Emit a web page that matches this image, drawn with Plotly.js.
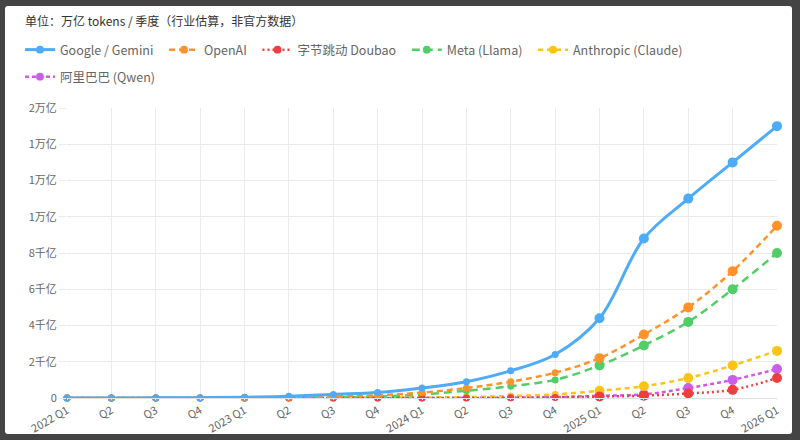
<!DOCTYPE html>
<html>
<head>
<meta charset="utf-8">
<script src="https://cdn.plot.ly/plotly-3.0.1.min.js"></script>
<style>
  html, body { margin: 0; padding: 0; background: #444; }
  #frame { position: absolute; left: 5px; top: 6px; width: 787px; height: 428px; background: #fff; border-radius: 3px; }
  #chart { position: absolute; left: 0; top: 0; width: 800px; height: 440px; }
</style>
</head>
<body>
<div id="frame"></div>
<div id="chart"></div>
<script>
const quarters = ['2022 Q1', 'Q2', 'Q3', 'Q4', '2023 Q1', 'Q2', 'Q3', 'Q4',
  '2024 Q1', 'Q2', 'Q3', 'Q4', '2025 Q1', 'Q2', 'Q3', 'Q4', '2026 Q1'];

// 万亿 tokens / 季度
const google = [0, 0, 0.001, 0.002, 0.004, 0.01, 0.02, 0.03, 0.055, 0.09, 0.15, 0.24, 0.44, 0.88, 1.1, 1.3, 1.5];
const openai = [0, 0, 0, 0, 0.001, 0.004, 0.008, 0.015, 0.03, 0.055, 0.09, 0.14, 0.22, 0.35, 0.5, 0.7, 0.95];
const doubao = [0, 0, 0, 0, 0, 0, 0, 0, 0, 0, 0.001, 0.003, 0.008, 0.013, 0.025, 0.045, 0.11];
const meta = [0, 0, 0, 0, 0, 0.002, 0.004, 0.008, 0.02, 0.04, 0.065, 0.1, 0.18, 0.29, 0.42, 0.6, 0.8];
const claude = [0, 0, 0, 0, 0, 0, 0.001, 0.002, 0.003, 0.005, 0.011, 0.02, 0.04, 0.065, 0.11, 0.18, 0.26];
const qwen = [0, 0, 0, 0, 0, 0, 0, 0, 0, 0.001, 0.002, 0.005, 0.012, 0.02, 0.055, 0.1, 0.16];

const yTickVals = [0, 0.2, 0.4, 0.6, 0.8, 1.0, 1.2, 1.4, 1.6];
const yTickText = ['0', '2千亿', '4千亿', '6千亿', '8千亿', '1万亿', '1万亿', '1万亿', '2万亿'];

const font = '"Noto Sans CJK SC", "Noto Sans", sans-serif';
const xIdx = quarters.map((q, i) => i);
const sizes = quarters.map((q, i) => i >= 12 ? 10 : 7);

function series(name, y, color, width, dash, rank, legend) {
  return {
    x: xIdx, y: y, name: name + '\u00a0\u00a0', type: 'scatter', mode: 'lines+markers',
    line: { color: color, width: width, dash: dash, shape: 'spline', smoothing: 1 },
    marker: { color: color, size: sizes, opacity: 1, line: { width: 0 } },
    cliponaxis: false, legendrank: rank, legend: legend
  };
}

// drawn back to front, Google on top
const data = [
  series('阿里巴巴 (Qwen)', qwen, '#cc5de8', 2.5, '4px,3px', 6, 'legend2'),
  series('Anthropic (Claude)', claude, '#fcc419', 2.5, '5px,4px', 5, 'legend'),
  series('Meta (Llama)', meta, '#51cf66', 2.5, '8px,5px', 4, 'legend'),
  series('字节跳动 Doubao', doubao, '#f03e3e', 2.5, '2px,3px', 3, 'legend'),
  series('OpenAI', openai, '#ff922b', 2.5, '6px,4px', 2, 'legend'),
  series('Google / Gemini', google, '#4dabf7', 3, 'solid', 1, 'legend')
];

const legendStyle = {
  orientation: 'h', xref: 'container', yref: 'container', xanchor: 'left', yanchor: 'middle',
  font: { family: font, size: 12.5, color: '#666' }, bgcolor: 'rgba(0,0,0,0)', itemwidth: 30
};

const layout = {
  width: 800, height: 440,
  margin: { l: 67, r: 23, t: 108, b: 42 },
  paper_bgcolor: 'rgba(0,0,0,0)',
  plot_bgcolor: '#fff',
  font: { family: font, color: '#666' },
  title: {
    text: '单位：万亿 tokens / 季度（行业估算，非官方数据）',
    xref: 'container', yref: 'container', x: 25 / 800, y: 1 - 22 / 440,
    xanchor: 'left', yanchor: 'middle',
    font: { family: font, size: 12, color: '#333' }
  },
  legend: Object.assign({}, legendStyle, { x: 20 / 800, y: 1 - 50 / 440 }),
  legend2: Object.assign({}, legendStyle, { x: 20 / 800, y: 1 - 77 / 440 }),
  xaxis: {
    range: [0, 16], tickvals: xIdx, ticktext: quarters, tickangle: -30,
    showgrid: true, gridcolor: '#ebebeb', zeroline: false,
    ticks: 'outside', ticklen: 1, tickcolor: '#ebebeb',
    showline: true, linecolor: '#e0e0e0',
    tickfont: { family: font, size: 11, color: '#666' }
  },
  yaxis: {
    range: [0, 1.6], tickvals: yTickVals, ticktext: yTickText,
    showgrid: true, gridcolor: '#ebebeb', zeroline: false,
    ticks: 'outside', ticklen: 7, tickcolor: '#ebebeb',
    tickfont: { family: font, size: 11, color: '#666' }
  },
  hovermode: false
};

Plotly.newPlot('chart', data, layout, { displayModeBar: false, staticPlot: true });
</script>
</body>
</html>
